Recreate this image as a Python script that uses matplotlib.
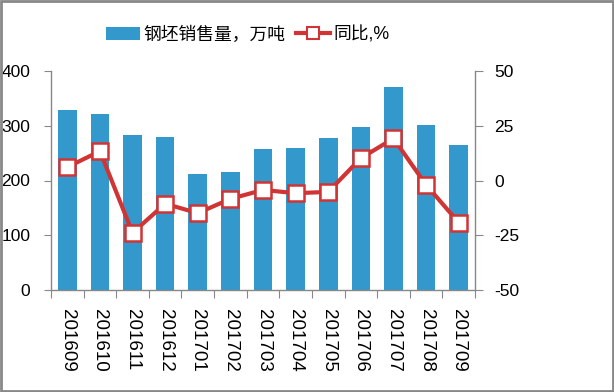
import matplotlib
matplotlib.use("Agg")
import matplotlib.pyplot as plt
from matplotlib.lines import Line2D
from matplotlib.patches import Patch, Rectangle

plt.rcParams['font.family'] = ['Liberation Sans', 'Noto Sans CJK SC', 'DejaVu Sans']

categories = ["201609", "201610", "201611", "201612", "201701", "201702", "201703",
              "201704", "201705", "201706", "201707", "201708", "201709"]
sales = [329, 321, 283, 279, 212, 215, 257, 259, 278, 298, 371, 301, 265]
yoy = [6.1, 13.4, -23.9, -10.6, -14.9, -8.4, -4.3, -5.8, -5.2, 10.2, 19.2, -2.0, -19.2]
left_ticks = [0, 100, 200, 300, 400]
right_ticks = [-50, -25, 0, 25, 50]

bar_color = "#3399cc"
line_color = "#d13434"
axis_color = "#888888"

fig = plt.figure(figsize=(6.14, 3.92), dpi=100)
ax = fig.add_axes([51/614, 1-290/392, (475-51)/614, (290-71)/392])
x = list(range(len(categories)))
ax.bar(x, sales, width=0.57, color=bar_color, zorder=2)
ax.set_xlim(-0.5, len(categories)-0.5)
ax.set_ylim(0, 400)
ax.set_yticks(left_ticks)
ax.set_yticklabels([str(t) for t in left_ticks], fontsize=12.5)

ax2 = ax.twinx()
ax2.plot(x, yoy, color=line_color, lw=3, marker='s', markersize=11,
         markerfacecolor='white', markeredgecolor=line_color, markeredgewidth=1.8, zorder=3)
ax2.set_ylim(-50, 50)
ax2.set_yticks(right_ticks)
ax2.set_yticklabels([str(t) for t in right_ticks], fontsize=12.5)

# x ticks at category boundaries, labels centered
ax.set_xticks([i - 0.5 for i in range(len(categories)+1)])
ax.set_xticklabels([])
ax.set_xticks(x, minor=True)
ax.set_xticklabels(categories, minor=True, rotation=270, fontsize=13.5)
ax.tick_params(axis='x', which='minor', length=0, pad=14)
ax.tick_params(axis='x', which='major', length=6, color=axis_color, direction='out')
ax.tick_params(axis='y', length=5, color=axis_color, direction='out', pad=10)
ax2.tick_params(axis='y', length=6, color=axis_color, direction='out', pad=8)

for a in (ax, ax2):
    a.spines['top'].set_visible(False)
    for s in ('left', 'right', 'bottom'):
        a.spines[s].set_color(axis_color)
        a.spines[s].set_linewidth(1)
ax.spines['right'].set_visible(False)
ax2.spines['left'].set_visible(False)
ax2.spines['bottom'].set_visible(False)

handles = [Patch(facecolor=bar_color, edgecolor='none'),
           Line2D([0], [0], color=line_color, lw=3, marker='s', markersize=9,
                  markerfacecolor='white', markeredgecolor=line_color, markeredgewidth=1.5)]
fig.legend(handles, ["钢坯销售量，万吨", "同比,%"], loc='center', bbox_to_anchor=(248/614, 1-35/392),
           ncol=2, frameon=False, fontsize=12.8, handlelength=1.9, handleheight=0.7,
           columnspacing=0.6, handletextpad=0.2)

fig.patches.append(Rectangle((0.002, 0.003), 0.996, 0.994, transform=fig.transFigure,
                             fill=False, edgecolor=axis_color, lw=2))

fig.savefig("out.png", dpi=100)
